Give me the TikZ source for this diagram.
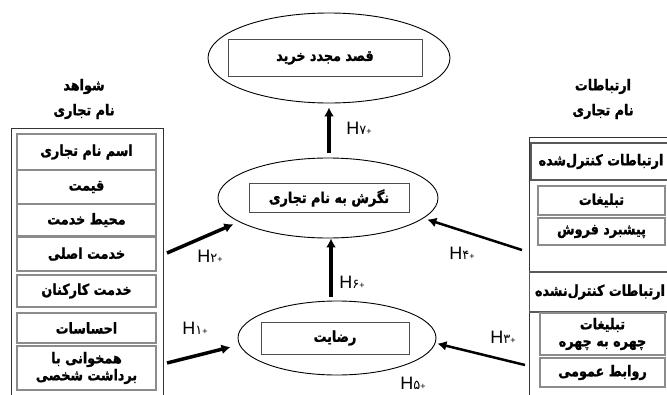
\documentclass[tikz,border=0pt]{standalone}
\usepackage{fontspec}
\setmainfont{Liberation Sans}
\newfontfamily\arabicfont[Script=Arabic, FakeStretch=0.85, BoldFeatures={FakeBold=1.2}]{DejaVu Sans}
\newfontfamily\digitfont[Script=Arabic]{DejaVu Sans}
\TeXXeTstate=1
\usetikzlibrary{arrows.meta,shapes.geometric}
\newcommand{\fatext}[1]{\beginR #1\endR}
\newcommand{\hlab}[1]{H{\digitfont\fontsize{13}{13}\selectfont #1}{\fontsize{9}{9}\selectfont +}}
\tikzset{
  panel/.style={draw=black!80, line width=1pt},
  item/.style={draw=black!45, line width=1.2pt, fill=white, align=center, inner sep=0pt,
               font=\arabicfont\bfseries\fontsize{15}{17}\selectfont},
  construct/.style={ellipse, draw, line width=0.9pt, inner sep=0pt},
  namebox/.style={draw=black!70, line width=0.9pt, inner sep=0pt,
                  font=\arabicfont\bfseries\fontsize{15}{17}\selectfont},
  head/.style={align=center, font=\arabicfont\bfseries\fontsize{15}{25}\selectfont},
  arr/.style={-{Latex[length=9pt, width=10pt]}},
  hyp/.style={font=\fontsize{18}{18}\selectfont},
}
\begin{document}
\begin{tikzpicture}[x=1pt, y=-1pt]
  \useasboundingbox (0,0) rectangle (667,394);
  \clip (0,0) rectangle (667,394);
  % constructs
  \node[construct, minimum width=242pt, minimum height=90pt] (intent) at (329,58) {};
  \node[namebox, minimum width=194pt, minimum height=37pt] (intentbox) at (325,58) {\fatext{قصد مجدد خرید}};
  \node[construct, minimum width=220pt, minimum height=80pt] (att) at (328,198) {};
  \node[namebox, minimum width=160pt, minimum height=29pt] (attbox) at (329,198) {\fatext{نگرش به نام تجاری}};
  \node[construct, minimum width=198pt, minimum height=74pt] (sat) at (337,338) {};
  \node[namebox, minimum width=148pt, minimum height=32pt] (satbox) at (335,338) {\fatext{رضایت}};
  % left panel
  \node[head] (evidhead) at (84,99) {\fatext{شواهد}\\\fatext{نام تجاری}};
  \draw[panel] (11,128) rectangle (163,420);
  \foreach \y/\h/\t [count=\i] in {152/36/{اسم نام تجاری}, 187/34/{قیمت}, 220/32/{محیط خدمت},
      254/34/{خدمت اصلی}, 291/32/{خدمت کارکنان}, 328/30/{احساسات}}
    \node[item, minimum width=139pt, minimum height=\h pt] (ev\i) at (86.5,\y) {\fatext{\t}};
  \node[item, minimum width=139pt, minimum height=44pt] (ev7) at (86.5,368) {\fatext{همخوانی با}\\\fatext{برداشت شخصی}};
  % right panel
  \node[head] (comhead) at (603,99) {\fatext{ارتباطات}\\\fatext{نام تجاری}};
  \draw[panel] (529,137) rectangle (700,420);
  \node[item, draw=black!65, minimum width=140pt, minimum height=37pt] (com1) at (601,161.5) {\fatext{ارتباطات کنترل‌شده}};
  \foreach \y/\h/\t [count=\i from 2] in {200.5/29/{تبلیغات}, 231.5/27/{پیشبرد فروش}}
    \node[item, minimum width=127pt, minimum height=\h pt] (com\i) at (601.5,\y) {\fatext{\t}};
  \node[item, draw=black!65, minimum width=141pt, minimum height=40pt] (com4) at (600,292) {\fatext{ارتباطات کنترل‌نشده}};
  \node[item, minimum width=125pt, minimum height=42pt] (com5) at (602.5,334) {\fatext{تبلیغات}\\\fatext{چهره به چهره}};
  \node[item, minimum width=125pt, minimum height=29pt] (com6) at (602.5,372.5) {\fatext{روابط عمومی}};
  % hypotheses
  \coordinate (h2s) at (167,253);
  \coordinate (h1s) at (167,363);
  \coordinate (h4s) at (522,250);
  \coordinate (h3s) at (525,365);
  \coordinate (h6s) at (331,297);
  \draw[arr, line width=4pt, shorten <=5pt, shorten >=4pt] (att.north -| intent.south) -- (intent.south);
  \draw[arr, line width=4pt] (h6s) -- (h6s |- att.south);
  \draw[arr, line width=3.5pt, shorten >=6pt] (h2s) -- (att.195);
  \draw[arr, line width=3.5pt, shorten >=9pt] (h1s) -- (sat.184);
  \draw[arr, line width=2.5pt, shorten >=4pt] (h4s) -- (att.-12);
  \draw[arr, line width=2.5pt, shorten >=2pt] (h3s) -- (sat.-3);
  \node[hyp] (l7) at (359,128) {\hlab{۷}};
  \node[hyp] (l6) at (352,282) {\hlab{۶}};
  \node[hyp] (l2) at (210,256) {\hlab{۲}};
  \node[hyp] (l1) at (195,328) {\hlab{۱}};
  \node[hyp] (l4) at (462,253) {\hlab{۴}};
  \node[hyp] (l3) at (503,337) {\hlab{۳}};
  \node[hyp] (l5) at (413,383) {\hlab{۵}};
\end{tikzpicture}
\end{document}
